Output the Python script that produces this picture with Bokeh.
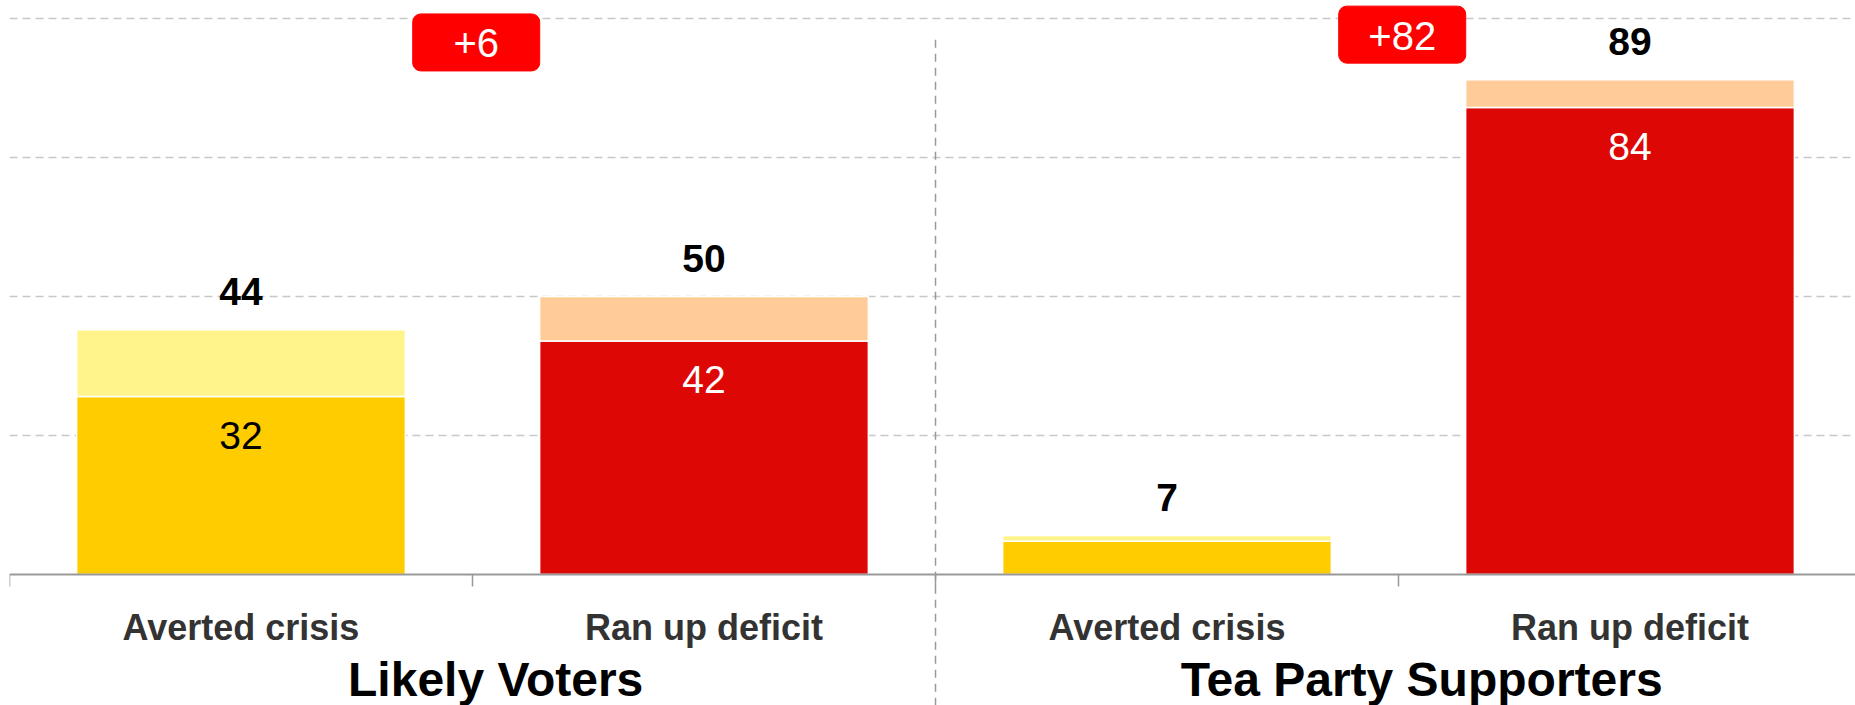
from bokeh.plotting import figure
from bokeh.models import Range1d, LinearAxis, FixedTicker, Grid, ColumnDataSource
from bokeh.core.properties import value
from bokeh.embed import file_html
from bokeh.resources import INLINE

# ---------------- data ----------------
groups = ["Likely Voters", "Tea Party Supporters"]
categories = ["Averted crisis", "Ran up deficit", "Averted crisis", "Ran up deficit"]
strong = [32, 42, 6, 84]          # darker (strong) segment
total = [44, 50, 7, 89]           # total including lighter segment
dark_colors = ["#FFCC00", "#DD0806", "#FFCC00", "#DD0806"]
light_colors = ["#FFF48C", "#FFCC99", "#FFF48C", "#FFCC99"]
inner_text_colors = ["#000000", "#FFFFFF", "#000000", "#FFFFFF"]
grid_values = [25, 50, 75, 100]

# ---------------- layout constants ----------------
FONT = "Liberation Sans"
W, H = 1855, 705
BAR_W = 0.71
X_END = 3.487
Y_START, Y_END = -23.56, 103.24
DIFF_BOX_Y = [95.7, 97.1]
BOX_SHIFT = 0.008
GROUP_SHIFT = 0.05
DIVIDER_TOP = 96.2

xs = list(range(len(categories)))
n_per_group = len(categories) // len(groups)

p = figure(width=W, height=H, x_range=Range1d(-0.5, X_END), y_range=Range1d(Y_START, Y_END),
           output_backend="svg", toolbar_location=None,
           x_axis_location=None, y_axis_location=None,
           min_border_left=9, min_border_right=0, min_border_top=0, min_border_bottom=0,
           outline_line_color=None, background_fill_color="white")
p.grid.visible = False

# horizontal dashed grid
grid = Grid(dimension=1, ticker=FixedTicker(ticks=grid_values),
            grid_line_color="#c8c8c8", grid_line_dash="8 5", grid_line_width=1.3)
p.add_layout(grid)

# group divider
div_x = n_per_group - 0.5
p.segment(x0=[div_x], y0=[DIVIDER_TOP], x1=[div_x], y1=[Y_START],
          line_color="#999999", line_dash="8 6", line_width=1.5)

# bars
src = ColumnDataSource(dict(x=xs, strong=strong, total=total, dark=dark_colors,
                            light=light_colors, tlabel=[str(v) for v in total]))
p.vbar(x="x", width=BAR_W, bottom=0, top="strong", fill_color="dark",
       line_color="white", line_width=1.5, source=src)
p.vbar(x="x", width=BAR_W, bottom="strong", top="total", fill_color="light",
       line_color="white", line_width=1.5, source=src)

# total labels above bars
p.text(x="x", y="total", text="tlabel", source=src, text_align="center",
       text_baseline="alphabetic", y_offset=-38, text_font=value(FONT),
       text_font_style="bold", text_font_size="39px", text_color="#000000")

# inner labels (strong segment), only where segment is tall enough
in_idx = [i for i, v in enumerate(strong) if v >= 15]
in_src = ColumnDataSource(dict(x=[xs[i] for i in in_idx], y=[strong[i] for i in in_idx],
                               t=[str(strong[i]) for i in in_idx],
                               c=[inner_text_colors[i] for i in in_idx]))
p.text(x="x", y="y", text="t", source=in_src, text_align="center",
       text_baseline="alphabetic", y_offset=39, text_font=value(FONT),
       text_font_size="39px", text_color="c")

# difference boxes
diffs = [total[g * n_per_group + 1] - total[g * n_per_group] for g in range(len(groups))]
box_x = [g * n_per_group + 0.5 + BOX_SHIFT for g in range(len(groups))]
box_src = ColumnDataSource(dict(x=box_x, y=DIFF_BOX_Y, t=["+%d" % d for d in diffs]))
p.rect(x="x", y="y", width=127, height=57, width_units="screen", height_units="screen",
       fill_color="#FF0000", line_color="#FF0000", border_radius=8, source=box_src)
p.text(x="x", y="y", text="t", source=box_src, text_align="center",
       text_baseline="alphabetic", y_offset=1, text_font=value(FONT),
       text_font_size="40px", text_color="white")

# category axis, drawn at y = 0 inside the frame
ax1 = LinearAxis(ticker=FixedTicker(ticks=xs, minor_ticks=[i - 0.5 for i in xs]),
                 fixed_location=0,
                 major_label_overrides={i: c for i, c in zip(xs, categories)},
                 axis_line_color="#999999", axis_line_width=2,
                 major_tick_line_color=None, major_tick_out=0, major_tick_in=0,
                 minor_tick_line_color="#999999", minor_tick_line_width=1.5,
                 minor_tick_out=12, minor_tick_in=0,
                 major_label_standoff=20, major_label_text_font=FONT,
                 major_label_text_font_style="bold", major_label_text_font_size="36px",
                 major_label_text_color="#333333")
p.add_layout(ax1, "below")

# group axis (own range so group centres fall on integers)
g0 = (n_per_group - 1) / 2 + GROUP_SHIFT
step = n_per_group
p.extra_x_ranges = {"grp": Range1d((-0.5 - g0) / step, (X_END - g0) / step)}
ax2 = LinearAxis(x_range_name="grp", fixed_location=0,
                 ticker=FixedTicker(ticks=list(range(len(groups))), minor_ticks=[]),
                 major_label_overrides={i: g for i, g in enumerate(groups)},
                 axis_line_color=None, major_tick_line_color=None, minor_tick_line_color=None,
                 major_tick_out=0, major_tick_in=0, minor_tick_out=0, minor_tick_in=0,
                 major_label_standoff=78, major_label_text_font=FONT,
                 major_label_text_font_style="bold", major_label_text_font_size="48px",
                 major_label_text_color="#000000")
p.add_layout(ax2, "below")

open("out.html", "w").write(file_html(p, INLINE))
